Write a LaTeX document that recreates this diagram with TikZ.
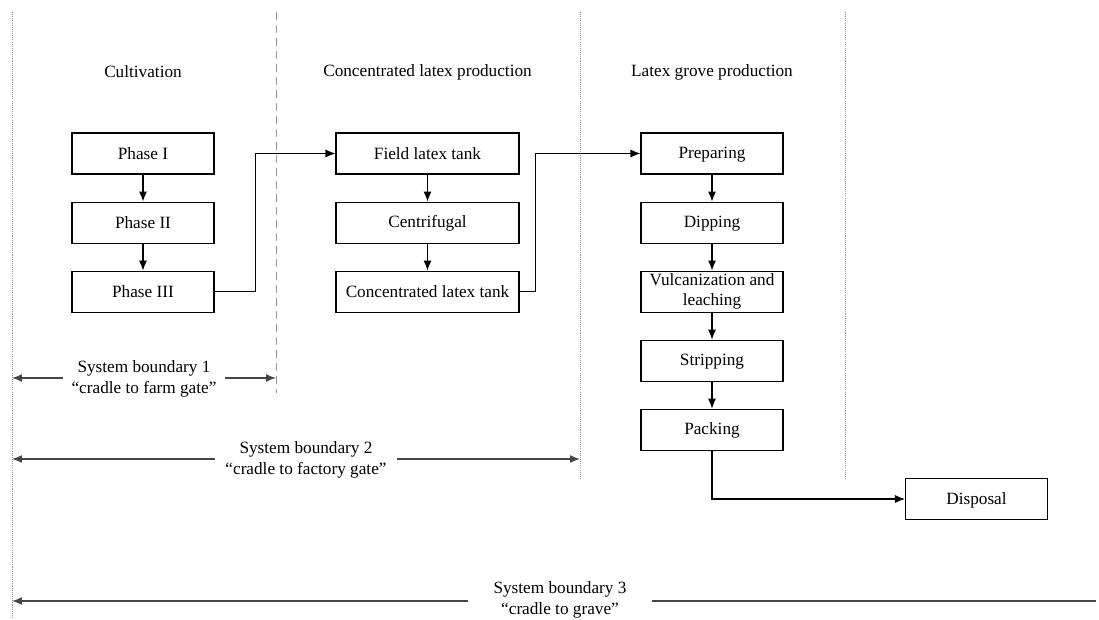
\documentclass[tikz,border=0pt]{standalone}
\usepackage{fontspec}
\setmainfont{Liberation Serif}
\usetikzlibrary{arrows.meta,positioning}
\definecolor{sepgray}{RGB}{150,150,150}
\definecolor{boundgray}{RGB}{70,70,70}

\begin{document}
\begin{tikzpicture}[x=0.02cm, y=-0.02cm, >=Latex,
    font=\fontsize{9.8}{11.4}\selectfont,
    stage/.style={draw, line width=0.6pt, minimum width=2.84cm, minimum height=0.82cm, inner sep=0pt, align=center,
      execute at begin node={\rule[-1.4pt]{0pt}{9.4pt}}},
    wide/.style={stage, minimum width=3.66cm},
    flow/.style={->, line width=0.6pt, >={Latex[length=0.2cm,width=0.16cm]}},
    sep/.style={sepgray, line width=0.5pt, dash pattern=on 0.6pt off 0.6pt},
    bound/.style={boundgray, line width=0.8pt, >={Latex[length=0.2cm,width=0.16cm]}},
    blabel/.style={fill=white, inner sep=0pt, align=center, font=\fontsize{9.8}{12}\selectfont}]
  \useasboundingbox (0,0) rectangle (1099,619);

  % phase separators
  \draw[sep] (12,12) -- (12,619);
  \draw[sepgray, line width=0.5pt, dash pattern=on 0.16cm off 0.1cm] (276,12) -- (276,393);
  \draw[sep] (580,12) -- (580,479);
  \draw[sep] (845,12) -- (845,479);

  \node (hcult) at (143,72) {Cultivation};
  \node (hconc) at (427.5,72) {Concentrated latex production};
  \node (hgrove) at (712,72) {Latex grove production};

  % cultivation
  \node[stage] (ph1) at (143,153.5) {Phase I};
  \node[stage, below=0.54cm of ph1] (ph2) {Phase II};
  \node[stage, below=0.54cm of ph2] (ph3) {Phase III};

  % concentrated latex
  \node[wide] (flt) at (427.5,153.5) {Field latex tank};
  \node[wide, below=0.54cm of flt] (cent) {Centrifugal};
  \node[wide, below=0.54cm of cent] (clt) {Concentrated latex tank};

  % latex grove
  \node[stage] (prep) at (712,153.5) {Preparing};
  \node[stage, below=0.54cm of prep] (dip) {Dipping};
  \node[stage, below=0.54cm of dip] (vul) {Vulcanization and\\leaching};
  \node[stage, below=0.54cm of vul] (strip) {Stripping};
  \node[stage, below=0.54cm of strip] (pack) {Packing};
  \node[stage] (disp) at (976.5,499) {Disposal};

  \foreach \a/\b in {ph1/ph2, ph2/ph3, flt/cent, cent/clt, prep/dip, dip/vul, vul/strip, strip/pack}
    \draw[flow] (\a) -- (\b);
  \draw[flow] (ph3.east) -- ++(41,0) |- (flt.west);
  \draw[flow] (clt.east) -- ++(16,0) |- (prep.west);
  \draw[flow] (pack.south) |- (disp.west);

  % system boundaries
  \coordinate (b1l) at (12,378);
  \coordinate (b1r) at (276,378);
  \coordinate (b2l) at (12,459);
  \coordinate (b2r) at (580,459);
  \coordinate (b3l) at (12,601);
  \coordinate (b3r) at (1096,601);
  \draw[bound, <->] (b1l) -- (b1r);
  \draw[bound, <->] (b2l) -- (b2r);
  \draw[bound, <-] (b3l) -- (b3r);
  \node[blabel, minimum width=3.24cm] (sb1) at (144,379)
    {System boundary 1\\“cradle to farm gate”};
  \node[blabel, minimum width=3.64cm] (sb2) at (306,460)
    {System boundary 2\\“cradle to factory gate”};
  \node[blabel, minimum width=3.68cm] (sb3) at (560,600)
    {System boundary 3\\“cradle to grave”};
\end{tikzpicture}
\end{document}
